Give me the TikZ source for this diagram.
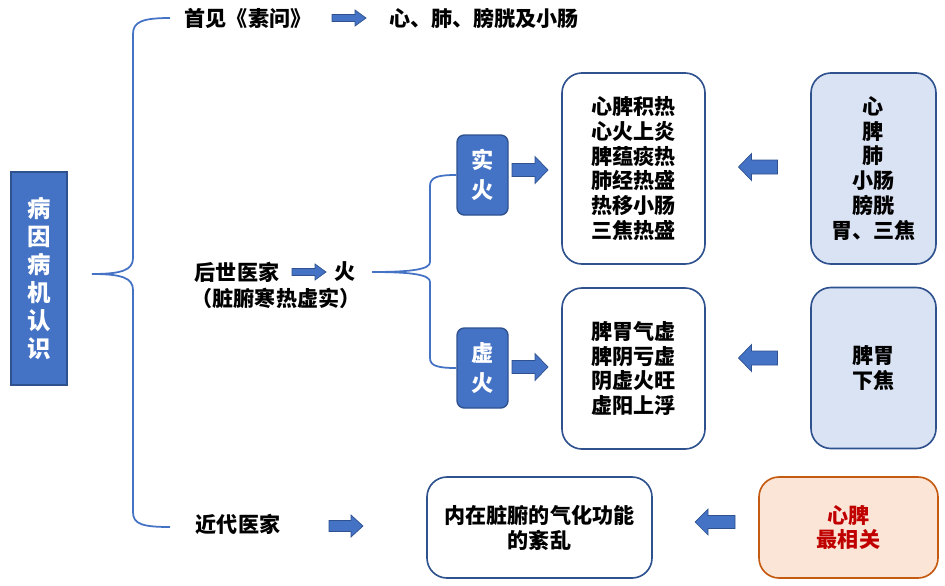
\documentclass[tikz,border=0pt]{standalone}
\usepackage{fontspec}
\setmainfont{Noto Sans CJK SC}
\definecolor{blueA}{HTML}{4472C4}
\definecolor{blueD}{HTML}{2F528F}
\definecolor{blueL}{HTML}{DAE3F3}
\definecolor{orangeL}{HTML}{FBE5D6}
\definecolor{orangeD}{HTML}{C55A11}
\definecolor{redT}{HTML}{C00000}
% block arrow: [options]{centre}{length}{head width}{body width}{head length}
\newcommand{\blockarrow}[6][]{%
	\draw[fill=blueA, draw=blueD, line width=0.6pt, shift={#2}, #1]
		(-#3/2,-#5/2) -- (#3/2-#6,-#5/2) -- (#3/2-#6,-#4/2) -- (#3/2,0)
		-- (#3/2-#6,#4/2) -- (#3/2-#6,#5/2) -- (-#3/2,#5/2) -- cycle;}

\begin{document}
\begin{tikzpicture}[x=0.03cm, y=-0.03cm,
	txt/.style={font=\fontsize{18}{21.3}\selectfont\bfseries, align=center, inner sep=0pt},
	box/.style={txt, draw=blueD, line width=1.4pt, rounded corners=0.6cm, fill=white},
	tag/.style={txt, draw=blueD, line width=1.2pt, rounded corners=0.22cm, fill=blueA, text=white,
		minimum width=1.53cm, minimum height=2.4cm, font=\fontsize{19}{26}\selectfont\bfseries},
	brace/.style={draw=blueA, line width=1.5pt}]
	\useasboundingbox (0,0) rectangle (945,586);
	% root
	\node[txt, draw=blueD, line width=1.5pt, fill=blueA, text=white, minimum width=1.68cm, minimum height=6.39cm,
		font=\fontsize{20}{24}\selectfont\bfseries] (root) at (39,278.5) {病\\因\\病\\机\\认\\识};
	% first branch
	\node[txt] (suwen) at (248,18) {首见《素问》};
	\blockarrow{(349,18)}{34}{16}{7}{11}
	\node[txt] (organs) at (484,18) {心、肺、膀胱及小肠};
	% second branch
	\node[txt] (later) at (237,272) {后世医家};
	\blockarrow{(309,272)}{34}{16}{7}{11}
	\node[txt] (fire) at (345,272) {火};
	\node[txt] (later2) at (276,298) {（脏腑寒热虚实）};
	\node[tag] (shi) at (482.5,175) {实\\火};
	\node[tag] (xu) at (482.5,368) {虚\\火};
	\blockarrow{(530,170)}{36}{27}{13}{13}
	\blockarrow{(530,367)}{36}{27}{13}{13}
	\node[box, minimum width=4.29cm, minimum height=5.73cm] (shilist) at (633.5,168.5)
		{心脾积热\\心火上炎\\脾蕴痰热\\肺经热盛\\热移小肠\\三焦热盛};
	\node[box, minimum width=4.29cm, minimum height=4.83cm] (xulist) at (633.5,368.5)
		{脾胃气虚\\脾阴亏虚\\阴虚火旺\\虚阳上浮};
	\blockarrow[xscale=-1]{(758,167)}{39}{27}{14}{13}
	\blockarrow[xscale=-1]{(758,358)}{39}{27}{14}{13}
	\node[box, fill=blueL, minimum width=3.75cm, minimum height=5.73cm] (zang1) at (873.5,168.5)
		{心\\脾\\肺\\小肠\\膀胱\\胃、三焦};
	\node[box, fill=blueL, minimum width=3.75cm, minimum height=4.83cm] (zang2) at (873.5,368)
		{脾胃\\下焦};
	% third branch
	\node[txt] (modern) at (238,524) {近代医家};
	\blockarrow{(346,526)}{34}{22}{11}{12}
	\node[box, minimum width=6.75cm, minimum height=3.03cm] (qihua) at (539.5,527.5)
		{内在脏腑的气化功能\\的紊乱};
	\blockarrow[xscale=-1]{(715,522)}{40}{26}{13}{13}
	\node[box, draw=orangeD, fill=orangeL, text=redT, minimum width=5.37cm, minimum height=3.03cm] (key) at (848.5,527.5)
		{心脾\\最相关};
	% braces
	\coordinate (tip1) at (92,274);
	\coordinate (top1) at (170,18);
	\coordinate (bot1) at (170,527);
	\coordinate (tip2) at (372,272);
	\draw[brace] (top1) .. controls (142,18) and (133,22) .. (133,34) -- (133,258)
		.. controls (133,270) and (122,274) .. (tip1)
		.. controls (122,274) and (133,278) .. (133,290) -- (133,512)
		.. controls (133,524) and (142,527) .. (bot1);
	\draw[brace] (shi.west) .. controls (438,175) and (430,177) .. (430,186) -- (430,262)
		.. controls (430,269) and (414,272) .. (tip2)
		.. controls (414,272) and (430,275) .. (430,282) -- (430,358)
		.. controls (430,366) and (438,368) .. (xu.west);
\end{tikzpicture}
\end{document}
